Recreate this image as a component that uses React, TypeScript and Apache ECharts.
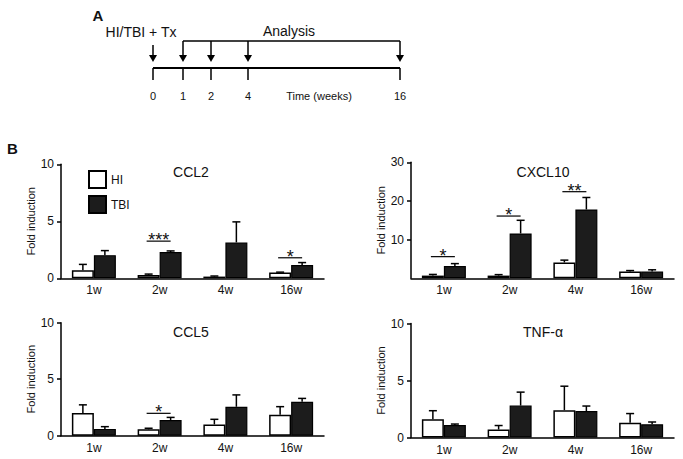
import React, { useEffect, useRef } from 'react';
import * as echarts from 'echarts';

// ---------- data ----------
const weeks = ['1w', '2w', '4w', '16w'];

const ccl2HI = [0.7, 0.3, 0.15, 0.5];
const ccl2HISem = [0.52, 0.07, 0.05, 0.04];
const ccl2TBI = [2.03, 2.3, 3.15, 1.16];
const ccl2TBISem = [0.4, 0.1, 1.8, 0.22];

const cxcl10HI = [0.7, 0.7, 4.1, 1.75];
const cxcl10HISem = [0.3, 0.25, 0.6, 0.25];
const cxcl10TBI = [3.2, 11.6, 17.8, 1.75];
const cxcl10TBISem = [0.6, 3.4, 3.1, 0.45];

const ccl5HI = [2.0, 0.56, 1.0, 1.85];
const ccl5HISem = [0.73, 0.1, 0.45, 0.72];
const ccl5TBI = [0.6, 1.38, 2.56, 3.0];
const ccl5TBISem = [0.2, 0.24, 1.05, 0.3];

const tnfHI = [1.6, 0.7, 2.4, 1.3];
const tnfHISem = [0.75, 0.35, 2.1, 0.8];
const tnfTBI = [1.1, 2.8, 2.32, 1.16];
const tnfTBISem = [0.08, 1.18, 0.44, 0.2];

const ccl2Sig = [
  { week: '2w', level: 3.26, mark: '***' },
  { week: '16w', level: 1.8, mark: '*' },
];
const cxcl10Sig = [
  { week: '1w', level: 5.6, mark: '*' },
  { week: '2w', level: 16.1, mark: '*' },
  { week: '4w', level: 22.4, mark: '**' },
];
const ccl5Sig = [{ week: '2w', level: 1.98, mark: '*' }];
const tnfSig: { week: string; level: number; mark: string }[] = [];

// timeline (panel A)
const timelineLabels = ['0', '1', '2', '4', '16'];
const analysisLabels = ['1', '2', '4', '16'];

// ---------- layout / style ----------
const FONT = '"Liberation Sans", Arial, Helvetica, sans-serif';
const NARROW = '"Liberation Sans Narrow", "Arial Narrow", "Liberation Sans", sans-serif';
const BAR_W = 22;
const INK = '#111';
const TBI_FILL = '#1c1c1c';

const panels = [
  { title: 'CCL2', hi: ccl2HI, hiSem: ccl2HISem, tbi: ccl2TBI, tbiSem: ccl2TBISem, sig: ccl2Sig, max: 10, interval: 5, hideZero: false,
    grid: { left: 61, top: 164.3, width: 263, height: 114 }, titlePos: [191, 172], nameGap: 22 },
  { title: 'CXCL10', hi: cxcl10HI, hiSem: cxcl10HISem, tbi: cxcl10TBI, tbiSem: cxcl10TBISem, sig: cxcl10Sig, max: 30, interval: 10, hideZero: true,
    grid: { left: 411, top: 162.3, width: 263, height: 116 }, titlePos: [543, 172], nameGap: 24 },
  { title: 'CCL5', hi: ccl5HI, hiSem: ccl5HISem, tbi: ccl5TBI, tbiSem: ccl5TBISem, sig: ccl5Sig, max: 10, interval: 5, hideZero: false,
    grid: { left: 61, top: 322.7, width: 263, height: 113 }, titlePos: [191, 332], nameGap: 22 },
  { title: 'TNF-α', hi: tnfHI, hiSem: tnfHISem, tbi: tnfTBI, tbiSem: tnfTBISem, sig: tnfSig, max: 10, interval: 5, hideZero: false,
    grid: { left: 411, top: 323.5, width: 263, height: 114 }, titlePos: [543, 332], nameGap: 24 },
];

// schematic x positions of the timeline ticks (layout only)
const TL_X = [153, 183, 211, 248, 400];
const TL_Y = 68;

function buildOption() {
  const grid: any[] = [];
  const xAxis: any[] = [];
  const yAxis: any[] = [];
  const series: any[] = [];
  const graphic: any[] = [];

  panels.forEach((p, gi) => {
    grid.push({ ...p.grid, containLabel: false });
    xAxis.push({
      type: 'category', gridIndex: gi, data: weeks,
      axisLine: { lineStyle: { color: '#000', width: 1.5 } },
      axisTick: { show: false },
      axisLabel: { fontSize: 12, color: INK, fontFamily: FONT, margin: 6 },
    });
    yAxis.push({
      type: 'value', gridIndex: gi, min: 0, max: p.max, interval: p.interval,
      name: 'Fold induction', nameLocation: 'middle', nameGap: p.nameGap,
      nameTextStyle: { fontSize: 11, color: INK, fontFamily: FONT },
      axisLine: { show: true, lineStyle: { color: '#000', width: 1.5 } },
      axisTick: { show: true, length: 4, lineStyle: { color: '#000', width: 1.5 } },
      axisLabel: { fontSize: 12, color: INK, fontFamily: FONT, margin: 7, showMinLabel: !p.hideZero },
      splitLine: { show: false },
    });
    series.push({
      type: 'bar', name: 'HI', xAxisIndex: gi, yAxisIndex: gi, data: p.hi,
      barWidth: BAR_W, barGap: '0%',
      itemStyle: { color: '#fff', borderColor: '#000', borderWidth: 1.5 },
    });
    series.push({
      type: 'bar', name: 'TBI', xAxisIndex: gi, yAxisIndex: gi, data: p.tbi,
      barWidth: BAR_W, barGap: '0%',
      itemStyle: { color: TBI_FILL, borderColor: '#000', borderWidth: 1.2 },
    });
    const errData: any[] = [];
    weeks.forEach((w, i) => {
      errData.push([w, p.hi[i], p.hi[i] + p.hiSem[i], -1]);
      errData.push([w, p.tbi[i], p.tbi[i] + p.tbiSem[i], 1]);
    });
    series.push({
      type: 'custom', name: 'err', xAxisIndex: gi, yAxisIndex: gi, data: errData, z: 5,
      encode: { x: 0, y: 1 },
      renderItem: (params: any, api: any) => {
        const i = api.value(0);
        const base = api.coord([i, api.value(1)]);
        const top = api.coord([i, api.value(2)]);
        const x = base[0] + api.value(3) * BAR_W / 2;
        const st = { stroke: '#000', lineWidth: 1.5 };
        return {
          type: 'group', children: [
            { type: 'line', shape: { x1: x, y1: base[1], x2: x, y2: top[1] }, style: st },
            { type: 'line', shape: { x1: x - 4, y1: top[1], x2: x + 4, y2: top[1] }, style: st },
          ],
        };
      },
    });
    if (p.sig.length) {
      const sig = p.sig;
      series.push({
        type: 'custom', name: 'sig', xAxisIndex: gi, yAxisIndex: gi, z: 6,
        data: sig.map((s) => [s.week, s.level]),
        encode: { x: 0, y: 1 },
        renderItem: (params: any, api: any) => {
          const c = api.coord([api.value(0), api.value(1)]);
          const x1 = c[0] - 13, x2 = c[0] + 11;
          return {
            type: 'group', children: [
              { type: 'line', shape: { x1, y1: c[1], x2, y2: c[1] }, style: { stroke: '#000', lineWidth: 1.2 } },
              { type: 'text', x: (x1 + x2) / 2, y: c[1] - 1,
                style: { text: sig[params.dataIndex].mark, fontSize: 18, fontFamily: FONT, fill: INK,
                  textAlign: 'center', textVerticalAlign: 'middle' } },
            ],
          };
        },
      });
    }
    graphic.push({
      type: 'text', x: p.titlePos[0], y: p.titlePos[1],
      style: { text: p.title, fontSize: 14, fontFamily: FONT, fill: INK, textAlign: 'center', textVerticalAlign: 'middle' },
    });
  });

  // panel labels
  graphic.push({ type: 'text', x: 98, y: 15, style: { text: 'A', fontSize: 15, fontWeight: 'bold', fontFamily: FONT, fill: INK, textAlign: 'center', textVerticalAlign: 'middle' } });
  graphic.push({ type: 'text', x: 12.5, y: 148, style: { text: 'B', fontSize: 15, fontWeight: 'bold', fontFamily: FONT, fill: INK, textAlign: 'center', textVerticalAlign: 'middle' } });

  // timeline
  const lineSt = { stroke: '#000', lineWidth: 1.5 };
  graphic.push({ type: 'line', shape: { x1: TL_X[0], y1: TL_Y, x2: TL_X[TL_X.length - 1], y2: TL_Y }, style: { stroke: '#000', lineWidth: 2 } });
  timelineLabels.forEach((lab, i) => {
    graphic.push({ type: 'line', shape: { x1: TL_X[i], y1: TL_Y, x2: TL_X[i], y2: 80 }, style: lineSt });
    graphic.push({ type: 'text', x: TL_X[i], y: 96, style: { text: lab, fontSize: 11, fontFamily: NARROW, fill: INK, textAlign: 'center', textVerticalAlign: 'middle' } });
  });
  graphic.push({ type: 'text', x: 319, y: 96, style: { text: 'Time (weeks)', fontSize: 11, fontFamily: NARROW, fill: INK, textAlign: 'center', textVerticalAlign: 'middle' } });

  const arrow = (x: number, y0: number) => {
    graphic.push({ type: 'line', shape: { x1: x, y1: y0, x2: x, y2: 58 }, style: lineSt });
    graphic.push({ type: 'polygon', shape: { points: [[x - 4, 55], [x + 4, 55], [x, 62]] }, style: { fill: '#000' } });
  };
  arrow(TL_X[0], 45);
  graphic.push({ type: 'text', x: 141, y: 32, style: { text: 'HI/TBI + Tx', fontSize: 14, fontFamily: NARROW, fill: INK, textAlign: 'center', textVerticalAlign: 'middle' } });
  // analysis bracket
  const firstA = timelineLabels.indexOf(analysisLabels[0]);
  const lastA = timelineLabels.indexOf(analysisLabels[analysisLabels.length - 1]);
  graphic.push({ type: 'line', shape: { x1: TL_X[firstA], y1: 41, x2: TL_X[lastA], y2: 41 }, style: lineSt });
  analysisLabels.forEach((lab) => arrow(TL_X[timelineLabels.indexOf(lab)], 41));
  graphic.push({ type: 'text', x: 289, y: 31, style: { text: 'Analysis', fontSize: 14, fontFamily: NARROW, fill: INK, textAlign: 'center', textVerticalAlign: 'middle' } });

  return {
    animation: false,
    backgroundColor: '#fff',
    textStyle: { fontFamily: FONT },
    grid, xAxis, yAxis, series, graphic,
    legend: {
      data: ['HI', 'TBI'], orient: 'vertical', left: 83, top: 165,
      itemWidth: 17, itemHeight: 17, itemGap: 6, icon: 'rect', selectedMode: false,
      textStyle: { fontSize: 12, color: INK, fontFamily: FONT },
    },
  };
}

export default function App() {
  const ref = useRef<HTMLDivElement>(null);
  useEffect(() => {
    if (!ref.current) return;
    const chart = echarts.init(ref.current, undefined, { renderer: 'svg' });
    chart.setOption(buildOption() as any);
    return () => chart.dispose();
  }, []);
  return <div ref={ref} style={{ position: 'fixed', left: 0, top: 0, width: 683, height: 459, background: '#fff' }} />;
}
